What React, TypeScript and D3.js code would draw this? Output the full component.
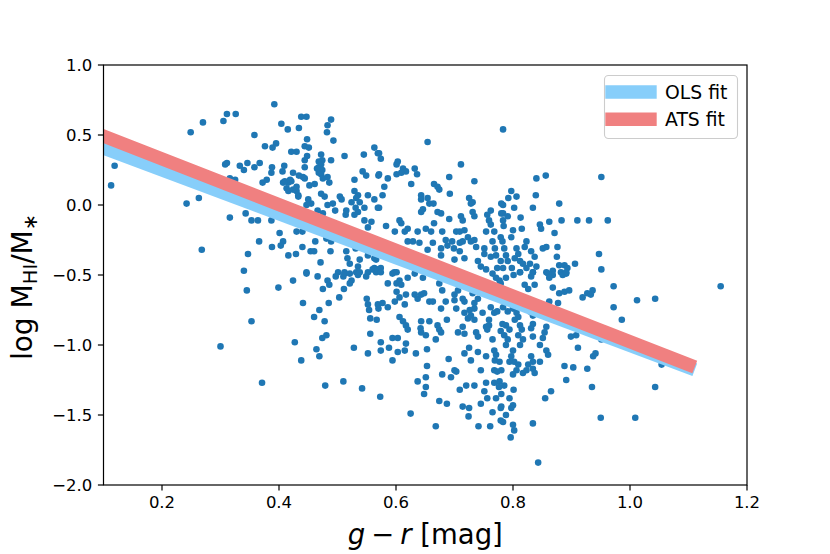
import React from 'react';
import * as d3 from 'd3';

// g - r colour [mag] and log(M_HI / M_*) for each galaxy
const galaxies: [number, number][] = [
  [0.392, 0.72], [0.438, 0.63], [0.447, 0.63], [0.489, 0.61], [0.483, 0.57], [0.404, 0.58], [0.415, 0.54],
  [0.434, 0.55], [0.482, 0.52], [0.358, 0.50], [0.493, 0.46], [0.448, 0.47], [0.444, 0.42], [0.451, 0.41],
  [0.376, 0.42], [0.389, 0.41], [0.395, 0.44], [0.421, 0.38], [0.430, 0.38], [0.472, 0.36], [0.474, 0.32],
  [0.468, 0.31], [0.472, 0.29], [0.468, 0.27], [0.474, 0.25], [0.468, 0.23], [0.472, 0.22], [0.465, 0.26],
  [0.448, 0.35], [0.444, 0.32], [0.512, 0.35], [0.545, 0.36], [0.563, 0.41], [0.569, 0.37], [0.358, 0.27],
  [0.367, 0.30], [0.388, 0.27], [0.387, 0.23], [0.409, 0.28], [0.406, 0.24], [0.489, 0.32], [0.444, 0.27],
  [0.424, 0.23], [0.434, 0.21], [0.441, 0.20], [0.372, 0.16], [0.379, 0.18], [0.407, 0.16], [0.416, 0.16],
  [0.421, 0.17], [0.452, 0.14], [0.461, 0.15], [0.475, 0.19], [0.483, 0.20], [0.486, 0.16], [0.543, 0.24],
  [0.549, 0.21], [0.529, 0.18], [0.570, 0.21], [0.413, 0.12], [0.416, 0.10], [0.430, 0.10], [0.433, 0.07],
  [0.472, 0.08], [0.478, 0.06], [0.504, 0.06], [0.507, 0.04], [0.529, 0.10], [0.535, 0.07], [0.532, 0.05],
  [0.538, 0.02], [0.552, 0.07], [0.563, 0.04], [0.450, 0.04], [0.455, 0.01], [0.483, 0.00], [0.492, 0.01],
  [0.524, 0.02], [0.531, -0.02], [0.535, -0.05], [0.529, -0.07], [0.546, -0.02], [0.569, -0.02], [0.514, -0.07],
  [0.353, -0.11], [0.364, -0.11], [0.387, -0.11], [0.546, -0.11], [0.558, -0.12], [0.552, -0.16], [0.430, -0.19],
  [0.440, -0.19], [0.401, -0.20], [0.366, -0.26], [0.407, -0.26], [0.388, -0.30], [0.403, -0.29], [0.440, -0.30],
  [0.462, -0.26], [0.481, -0.24], [0.489, -0.26], [0.454, -0.33], [0.460, -0.33], [0.488, -0.33], [0.515, -0.33],
  [0.532, -0.27], [0.531, -0.31], [0.548, -0.31], [0.552, -0.36], [0.416, -0.36], [0.429, -0.35], [0.471, -0.41],
  [0.517, -0.38], [0.521, -0.42], [0.538, -0.39], [0.535, -0.44], [0.566, -0.39], [0.563, -0.45], [0.447, -0.48],
  [0.501, -0.48], [0.512, -0.48], [0.532, -0.48], [0.552, -0.48], [0.496, -0.04], [0.466, -0.04], [0.447, 0.00],
  [0.515, -0.04], [0.475, -0.06], [0.501, -0.19], [0.486, -0.19], [0.515, -0.24],
  [0.783, 0.54], [0.654, 0.45], [0.571, 0.37], [0.574, 0.33], [0.603, 0.31], [0.601, 0.29], [0.612, 0.26],
  [0.617, 0.24], [0.609, 0.23], [0.632, 0.26], [0.636, 0.22], [0.711, 0.29], [0.571, 0.22], [0.586, 0.19],
  [0.601, 0.22], [0.691, 0.20], [0.580, 0.13], [0.626, 0.15], [0.665, 0.15], [0.671, 0.13], [0.674, 0.11],
  [0.734, 0.17], [0.577, 0.07], [0.643, 0.07], [0.643, 0.04], [0.654, 0.05], [0.657, 0.01], [0.664, 0.01],
  [0.692, 0.08], [0.725, 0.05], [0.731, 0.02], [0.728, 0.01], [0.571, -0.02], [0.643, -0.05], [0.646, -0.03],
  [0.671, -0.05], [0.677, -0.06], [0.711, -0.08], [0.714, -0.11], [0.731, -0.05], [0.734, -0.08], [0.762, -0.04],
  [0.756, -0.07], [0.759, -0.11], [0.762, -0.14], [0.783, 0.00], [0.780, -0.06], [0.783, -0.11], [0.606, -0.11],
  [0.609, -0.13], [0.583, -0.15], [0.665, -0.13], [0.691, -0.10], [0.598, -0.19], [0.615, -0.19], [0.620, -0.17],
  [0.637, -0.19], [0.651, -0.17], [0.660, -0.19], [0.679, -0.19], [0.703, -0.19], [0.709, -0.19], [0.717, -0.18],
  [0.754, -0.19], [0.768, -0.19], [0.620, -0.26], [0.629, -0.26], [0.640, -0.27], [0.663, -0.27], [0.685, -0.25],
  [0.688, -0.29], [0.696, -0.26], [0.699, -0.31], [0.709, -0.27], [0.714, -0.26], [0.723, -0.23], [0.728, -0.26],
  [0.654, -0.32], [0.677, -0.31], [0.677, -0.36], [0.709, -0.33], [0.717, -0.38], [0.734, -0.25], [0.737, -0.30],
  [0.751, -0.31], [0.751, -0.35], [0.765, -0.26], [0.769, -0.31], [0.779, -0.23], [0.782, -0.26], [0.762, -0.37],
  [0.771, -0.36], [0.779, -0.40], [0.740, -0.40], [0.745, -0.44], [0.700, -0.39], [0.563, -0.38], [0.574, -0.45],
  [0.566, -0.48], [0.597, -0.48], [0.754, -0.46], [0.773, -0.45],
  [0.840, 0.19], [0.856, 0.21], [0.951, 0.20], [0.797, 0.10], [0.806, 0.06], [0.792, 0.05], [0.839, 0.07],
  [0.780, 0.01], [0.802, -0.02], [0.834, -0.02], [0.879, 0.01], [0.783, -0.06], [0.791, -0.08], [0.813, -0.09],
  [0.862, -0.12], [0.883, -0.11], [0.910, -0.11], [0.930, -0.11], [0.962, -0.11], [0.846, -0.14], [0.848, -0.17],
  [0.784, -0.15], [0.800, -0.18], [0.797, -0.23], [0.815, -0.17], [0.871, -0.20], [0.823, -0.26], [0.820, -0.30],
  [0.785, -0.31], [0.806, -0.31], [0.809, -0.35], [0.803, -0.38], [0.812, -0.40], [0.831, -0.33], [0.837, -0.37],
  [0.829, -0.42], [0.851, -0.31], [0.857, -0.30], [0.876, -0.30], [0.875, -0.37], [0.947, -0.35], [0.788, -0.36],
  [0.791, -0.40], [0.783, -0.45], [0.817, -0.42], [0.823, -0.45], [0.840, -0.44], [0.834, -0.48], [0.879, -0.43],
  [0.888, -0.43], [0.893, -0.45], [0.906, -0.42], [0.951, -0.46], [0.868, -0.47], [0.857, -0.48], [0.882, -0.48],
  [0.891, -0.49], [0.798, -0.45], [0.812, -0.48],
  [0.972, -0.58], [0.885, -0.50], [0.891, -0.48], [0.868, -0.50], [0.860, -0.49], [0.862, -0.52], [0.831, -0.51],
  [0.834, -0.48], [0.801, -0.50], [0.812, -0.48], [0.777, -0.54], [0.788, -0.52], [0.837, -0.57], [0.826, -0.60],
  [0.820, -0.57], [0.868, -0.59], [0.879, -0.63], [0.888, -0.62], [0.896, -0.61], [0.919, -0.66], [0.927, -0.63],
  [0.936, -0.61], [0.933, -0.64], [0.972, -0.73], [0.986, -0.82], [0.862, -0.69], [0.877, -0.70], [0.783, -0.73],
  [0.791, -0.76], [0.800, -0.74], [0.806, -0.77], [0.809, -0.80], [0.803, -0.82], [0.829, -0.76], [0.834, -0.79],
  [0.788, -0.86], [0.794, -0.89], [0.785, -0.93], [0.791, -0.96], [0.812, -0.86], [0.815, -0.89], [0.809, -0.93],
  [0.817, -0.96], [0.812, -1.00], [0.834, -0.85], [0.831, -0.88], [0.834, -0.94], [0.857, -0.87], [0.854, -0.91],
  [0.851, -0.95], [0.899, -0.94], [0.908, -0.93], [0.911, -1.02], [0.951, -0.96], [0.937, -1.08], [0.941, -1.06],
  [0.846, -1.00], [0.857, -1.04], [0.860, -1.07], [0.788, -1.00], [0.800, -1.04], [0.797, -1.08], [0.802, -1.12],
  [0.794, -1.12], [0.831, -1.08], [0.834, -1.12], [0.826, -1.14], [0.846, -1.12], [0.809, -1.14], [0.806, -1.18],
  [0.817, -1.20], [0.823, -1.18], [0.834, -1.17], [0.837, -1.20], [0.800, -1.21], [0.888, -1.15], [0.903, -1.16],
  [0.927, -1.17], [0.891, -1.25], [0.935, -1.30], [0.777, -1.12], [0.780, -1.18], [0.777, -1.26], [0.785, -1.29],
  [0.780, -1.35], [0.801, -1.32], [0.865, -1.33], [0.855, -1.38], [0.794, -1.38], [0.800, -1.43], [0.797, -1.45],
  [0.780, -1.44], [0.788, -1.50], [0.783, -1.55], [0.950, -1.52], [0.834, -1.56], [0.800, -1.57], [0.802, -1.61],
  [0.796, -1.66],
  [1.155, -0.58], [1.012, -0.68], [1.043, -0.67], [1.054, -1.14], [1.043, -1.30], [1.009, -1.52], [0.843, -1.84],
  [0.447, -0.49], [0.466, -0.51], [0.424, -0.54], [0.399, -0.59], [0.483, -0.54], [0.486, -0.57], [0.475, -0.60],
  [0.497, -0.51], [0.510, -0.51], [0.512, -0.49], [0.521, -0.49], [0.524, -0.54], [0.521, -0.56], [0.535, -0.50],
  [0.538, -0.48], [0.549, -0.51], [0.560, -0.46], [0.569, -0.46], [0.511, -0.60], [0.503, -0.66], [0.441, -0.70],
  [0.485, -0.70], [0.469, -0.75], [0.460, -0.80], [0.478, -0.83], [0.550, -0.67], [0.552, -0.71], [0.554, -0.75],
  [0.570, -0.74], [0.556, -0.81], [0.567, -0.82], [0.353, -0.83], [0.556, -0.92], [0.481, -0.93], [0.474, -0.95],
  [0.427, -0.98], [0.464, -1.03], [0.469, -1.08], [0.528, -1.02], [0.552, -1.06], [0.438, -1.11], [0.371, -1.27],
  [0.479, -1.29], [0.510, -1.26], [0.542, -1.31],
  [0.340, -0.47], [0.345, -0.61], [0.300, -1.01],
  [0.311, 0.65], [0.326, 0.65], [0.270, 0.59], [0.305, 0.60], [0.249, 0.52], [0.119, 0.28], [0.113, 0.14],
  [0.242, 0.01], [0.263, 0.05], [0.268, -0.32], [0.316, -0.09], [0.308, 0.29], [0.311, 0.30], [0.333, 0.28],
  [0.340, 0.25], [0.346, 0.30], [0.316, 0.19], [0.325, 0.18], [0.343, -0.06], [0.347, -0.35], [0.410, 0.17],
  [0.419, 0.18], [0.444, 0.19], [0.424, 0.11], [0.430, 0.13], [0.433, 0.06],
  [0.574, -0.48], [0.594, -0.49], [0.601, -0.48], [0.620, -0.52], [0.632, -0.49], [0.646, -0.52], [0.586, -0.56],
  [0.601, -0.56], [0.606, -0.54], [0.609, -0.57], [0.601, -0.62], [0.606, -0.66], [0.617, -0.64], [0.632, -0.64],
  [0.637, -0.67], [0.643, -0.64], [0.648, -0.63], [0.674, -0.56], [0.679, -0.61], [0.700, -0.64], [0.706, -0.61],
  [0.700, -0.68], [0.714, -0.67], [0.717, -0.69], [0.731, -0.63], [0.740, -0.67], [0.734, -0.70], [0.748, -0.60],
  [0.756, -0.56], [0.765, -0.49], [0.771, -0.52], [0.779, -0.56], [0.569, -0.71], [0.577, -0.70], [0.586, -0.73],
  [0.598, -0.69], [0.615, -0.71], [0.657, -0.69], [0.663, -0.69], [0.677, -0.74], [0.685, -0.69], [0.703, -0.74],
  [0.717, -0.77], [0.726, -0.75], [0.734, -0.74], [0.748, -0.77], [0.762, -0.73], [0.768, -0.77], [0.759, -0.82],
  [0.773, -0.76], [0.723, -0.81], [0.734, -0.82], [0.728, -0.79], [0.754, -0.87], [0.759, -0.86], [0.756, -0.89],
  [0.782, -0.85], [0.779, -0.90], [0.606, -0.80], [0.612, -0.83], [0.617, -0.86], [0.620, -0.89], [0.643, -0.83],
  [0.642, -0.88], [0.643, -0.91], [0.657, -0.83], [0.671, -0.86], [0.674, -0.89], [0.677, -0.91], [0.687, -0.82],
  [0.651, -0.93], [0.668, -0.96], [0.706, -0.91], [0.714, -0.87], [0.717, -0.92], [0.737, -0.91], [0.740, -0.94],
  [0.765, -0.96], [0.574, -0.98], [0.574, -1.04], [0.588, -1.02], [0.594, -0.95], [0.603, -0.95], [0.603, -1.05],
  [0.617, -0.99], [0.615, -1.04], [0.634, -1.06], [0.653, -1.03], [0.594, -1.11], [0.690, -1.10], [0.717, -1.06],
  [0.725, -1.02], [0.728, -1.11], [0.740, -1.05], [0.754, -1.08], [0.768, -1.04], [0.771, -1.07], [0.769, -1.11],
  [0.653, -1.15], [0.700, -1.18], [0.703, -1.19], [0.694, -1.23], [0.679, -1.21], [0.745, -1.18], [0.768, -1.18],
  [0.773, -1.19], [0.651, -1.23], [0.637, -1.26], [0.651, -1.30], [0.648, -1.35], [0.709, -1.32], [0.720, -1.29],
  [0.734, -1.29], [0.754, -1.27], [0.751, -1.33], [0.756, -1.38], [0.768, -1.27], [0.776, -1.30], [0.771, -1.38],
  [0.674, -1.40], [0.687, -1.42], [0.714, -1.44], [0.725, -1.45], [0.724, -1.51], [0.745, -1.42], [0.765, -1.48],
  [0.779, -1.45], [0.573, -1.37], [0.625, -1.49], [0.668, -1.58], [0.741, -1.58], [0.761, -1.58], [0.779, -1.54],
];

const xTicks = [0.2, 0.4, 0.6, 0.8, 1.0, 1.2];
const xTickLabels = ['0.2', '0.4', '0.6', '0.8', '1.0', '1.2'];
const yTicks = [-2.0, -1.5, -1.0, -0.5, 0.0, 0.5, 1.0];
const yTickLabels = ['\u22122.0', '\u22121.5', '\u22121.0', '\u22120.5', '0.0', '0.5', '1.0'];

// straight-line fits: log(MHI/M*) = slope * (g - r) + intercept
const fitNames = ['OLS fit', 'ATS fit'];
const fitSlopes = [-1.567, -1.633];
const fitIntercepts = [0.564, 0.656];
const fitRange = [0.05, 1.1];
const fitColors = ['#87cefa', '#f08080'];

const W = 830;
const H = 554;
const margin = { left: 103.5, right: 83, top: 65, bottom: 69 };
const FONT = '"DejaVu Sans", Verdana, sans-serif';

export default function App() {
  const x = d3.scaleLinear().domain([0.1, 1.2]).range([margin.left, W - margin.right]);
  const y = d3.scaleLinear().domain([-2.0, 1.0]).range([H - margin.bottom, margin.top]);
  const [x0, x1] = x.range();
  const [y0, y1] = y.range();

  const fitPath = (k: number) =>
    d3.line<number>()
      .x(d => x(d))
      .y(d => y(fitSlopes[k] * d + fitIntercepts[k]))(fitRange) || '';

  const tickLen = 5.6;
  const pad = 5.6;

  return (
    <svg width={W} height={H} style={{ position: 'absolute', left: 0, top: 0, background: '#fff' }}
      fontFamily={FONT}>
      <defs>
        <clipPath id="plotArea">
          <rect x={x0} y={y1} width={x1 - x0} height={y0 - y1} />
        </clipPath>
      </defs>

      <g clipPath="url(#plotArea)">
        {galaxies.map((d, i) => (
          <circle key={i} cx={x(d[0])} cy={y(d[1])} r={3.3} fill="#1f77b4" />
        ))}
        {fitNames.map((name, k) => (
          <path key={name} d={fitPath(k)} fill="none" stroke={fitColors[k]}
            strokeWidth={13.4} strokeLinecap="square" />
        ))}
      </g>

      {/* spines */}
      <rect x={x0} y={y1} width={x1 - x0} height={y0 - y1} fill="none" stroke="#000" strokeWidth={1.2} />

      {/* x axis */}
      {xTicks.map((t, i) => (
        <g key={'x' + t}>
          <line x1={x(t)} x2={x(t)} y1={y0} y2={y0 + tickLen} stroke="#000" strokeWidth={1.2} />
          <text x={x(t)} y={y0 + tickLen + pad + 12} textAnchor="middle" fontSize={16.5}>{xTickLabels[i]}</text>
        </g>
      ))}

      {/* y axis */}
      {yTicks.map((t, i) => (
        <g key={'y' + t}>
          <line x1={x0 - tickLen} x2={x0} y1={y(t)} y2={y(t)} stroke="#000" strokeWidth={1.2} />
          <text x={x0 - tickLen - pad} y={y(t) + 6} textAnchor="end" fontSize={16.5}>{yTickLabels[i]}</text>
        </g>
      ))}

      {/* axis labels */}
      <text x={(x0 + x1) / 2} y={544} textAnchor="middle" fontSize={27.5}>
        <tspan fontStyle="italic">g</tspan>
        <tspan dx={6}>{'\u2212'}</tspan>
        <tspan dx={6} fontStyle="italic">r</tspan>
        <tspan>{' [mag]'}</tspan>
      </text>
      <text transform={`translate(32,${(y0 + y1) / 2 + 12}) rotate(-90)`} textAnchor="middle" fontSize={28}>
        <tspan>log</tspan>
        <tspan dx={9}>M</tspan>
        <tspan fontSize={19.5} dy={5}>HI</tspan>
        <tspan dy={-5}>/M</tspan>
        <tspan fontSize={19.5} dy={5}>{'\u2217'}</tspan>
      </text>

      {/* legend */}
      <g>
        <rect x={604.5} y={75.5} width={133} height={63} rx={4} fill="#fff" fillOpacity={0.8}
          stroke="#cccccc" strokeWidth={1.1} />
        {fitNames.map((name, k) => {
          const cy = 92 + k * 27.3;
          return (
            <g key={name}>
              <line x1={612} x2={650} y1={cy} y2={cy} stroke={fitColors[k]} strokeWidth={13.4} strokeLinecap="square" />
              <text x={665} y={cy + 6.8} fontSize={18.8}>{name}</text>
            </g>
          );
        })}
      </g>
    </svg>
  );
}
